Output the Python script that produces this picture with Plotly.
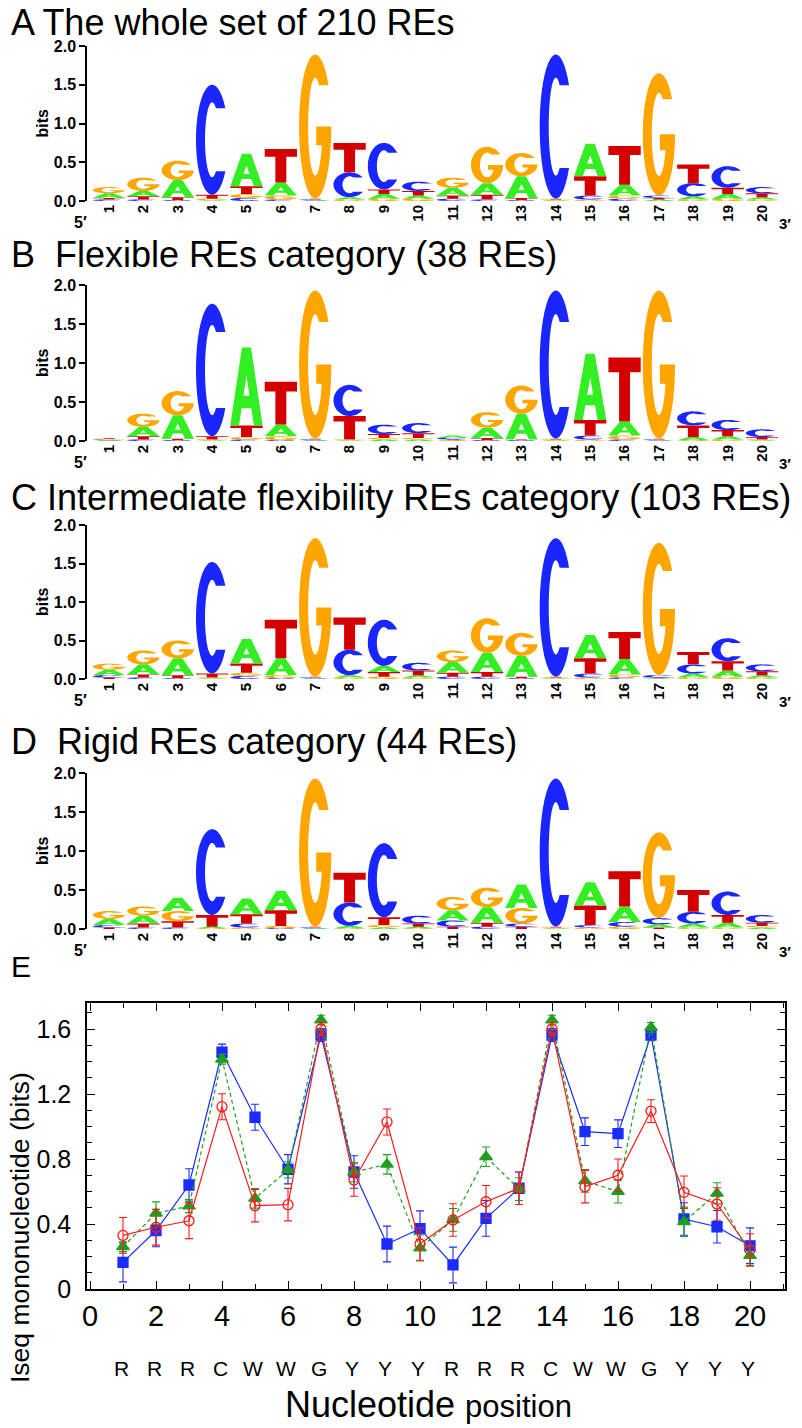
import numpy as np
import plotly.graph_objects as go

# The page body has an 8px margin, so the figure is 8px smaller and all
# reference pixel positions are shifted by that offset.
OFF = 8
W, H = 802 - OFF, 1428 - OFF

# ---------------- data ----------------
positions = list(range(1, 21))
pos_labels = [str(p) for p in positions]
iupac = ["R", "R", "R", "C", "W", "W", "G", "Y", "Y", "Y",
         "R", "R", "R", "C", "W", "W", "G", "Y", "Y", "Y"]

# Panel A: whole set (210 REs) - letter heights in bits
whole_A = [0.06, 0.07, 0.22, 0.01, 0.42, 0.17, 0.01, 0.03, 0.06, 0.04, 0.10, 0.15, 0.28, 0.01, 0.42, 0.14, 0.02, 0.04, 0.06, 0.03]
whole_C = [0.02, 0.02, 0.01, 1.42, 0.04, 0.02, 0.01, 0.32, 0.60, 0.12, 0.03, 0.02, 0.01, 1.86, 0.05, 0.03, 0.03, 0.17, 0.28, 0.08]
whole_G = [0.08, 0.17, 0.25, 0.02, 0.05, 0.05, 1.86, 0.02, 0.03, 0.03, 0.13, 0.47, 0.30, 0.01, 0.02, 0.04, 1.58, 0.02, 0.03, 0.02]
whole_T = [0.02, 0.04, 0.04, 0.05, 0.10, 0.43, 0.01, 0.38, 0.06, 0.06, 0.04, 0.06, 0.03, 0.01, 0.25, 0.50, 0.02, 0.24, 0.08, 0.05]

# Panel B: flexible (38 REs)
flex_A = [0.01, 0.12, 0.30, 0.01, 1.00, 0.15, 0.01, 0.01, 0.02, 0.02, 0.03, 0.13, 0.33, 0.01, 0.85, 0.18, 0.01, 0.04, 0.04, 0.01]
flex_C = [0.01, 0.02, 0.01, 1.70, 0.02, 0.01, 0.01, 0.40, 0.12, 0.13, 0.02, 0.01, 0.01, 1.90, 0.05, 0.02, 0.01, 0.18, 0.13, 0.10]
flex_G = [0.01, 0.17, 0.31, 0.01, 0.03, 0.05, 1.90, 0.01, 0.02, 0.02, 0.01, 0.20, 0.36, 0.01, 0.02, 0.05, 1.90, 0.01, 0.02, 0.01]
flex_T = [0.01, 0.04, 0.02, 0.04, 0.15, 0.55, 0.01, 0.30, 0.05, 0.06, 0.01, 0.03, 0.01, 0.01, 0.20, 0.82, 0.01, 0.15, 0.08, 0.03]

# Panel C: intermediate flexibility (103 REs)
inter_A = [0.07, 0.13, 0.22, 0.01, 0.32, 0.22, 0.01, 0.03, 0.08, 0.03, 0.14, 0.25, 0.27, 0.01, 0.30, 0.20, 0.01, 0.05, 0.08, 0.03]
inter_C = [0.03, 0.02, 0.01, 1.45, 0.04, 0.01, 0.01, 0.33, 0.60, 0.10, 0.03, 0.03, 0.01, 1.80, 0.05, 0.02, 0.03, 0.12, 0.30, 0.09]
inter_G = [0.08, 0.18, 0.23, 0.01, 0.04, 0.04, 1.80, 0.02, 0.03, 0.02, 0.15, 0.45, 0.30, 0.01, 0.02, 0.04, 1.72, 0.02, 0.03, 0.02]
inter_T = [0.02, 0.04, 0.04, 0.05, 0.12, 0.50, 0.01, 0.42, 0.06, 0.06, 0.05, 0.06, 0.02, 0.01, 0.20, 0.35, 0.01, 0.16, 0.12, 0.05]

# Panel D: rigid (44 REs)
rigid_A = [0.08, 0.10, 0.17, 0.02, 0.20, 0.25, 0.01, 0.03, 0.02, 0.02, 0.13, 0.20, 0.30, 0.01, 0.30, 0.20, 0.04, 0.05, 0.06, 0.02]
rigid_C = [0.03, 0.02, 0.02, 1.10, 0.05, 0.01, 0.01, 0.30, 0.95, 0.10, 0.08, 0.03, 0.04, 1.90, 0.03, 0.06, 0.08, 0.15, 0.30, 0.10]
rigid_G = [0.10, 0.12, 0.13, 0.01, 0.02, 0.03, 1.90, 0.01, 0.03, 0.01, 0.17, 0.25, 0.20, 0.01, 0.02, 0.03, 1.10, 0.02, 0.02, 0.02]
rigid_T = [0.02, 0.05, 0.08, 0.15, 0.12, 0.20, 0.01, 0.38, 0.10, 0.04, 0.03, 0.05, 0.03, 0.01, 0.25, 0.45, 0.02, 0.28, 0.10, 0.04]

# Panel E: Iseq mononucleotide (bits), mean and error per category
flex_iseq = [0.164, 0.36, 0.64, 1.457, 1.057, 0.737, 1.563, 0.72, 0.277, 0.371,
             0.148, 0.435, 0.62, 1.563, 0.968, 0.956, 1.563, 0.431, 0.383, 0.266]
flex_err = [0.12, 0.10, 0.10, 0.05, 0.08, 0.09, 0.04, 0.10, 0.11, 0.11,
            0.11, 0.11, 0.10, 0.04, 0.085, 0.085, 0.03, 0.10, 0.10, 0.11]
inter_iseq = [0.26, 0.466, 0.51, 1.414, 0.558, 0.733, 1.655, 0.72, 0.767, 0.252,
              0.425, 0.814, 0.615, 1.655, 0.665, 0.599, 1.61, 0.414, 0.589, 0.205]
inter_err = [0.03, 0.07, 0.04, 0.03, 0.06, 0.05, 0.03, 0.06, 0.06, 0.08,
             0.07, 0.06, 0.07, 0.03, 0.07, 0.07, 0.03, 0.09, 0.065, 0.06]
rigid_iseq = [0.33, 0.38, 0.42, 1.122, 0.513, 0.519, 1.60, 0.671, 1.028, 0.277,
              0.425, 0.537, 0.62, 1.60, 0.63, 0.70, 1.095, 0.595, 0.523, 0.24]
rigid_err = [0.11, 0.11, 0.11, 0.08, 0.10, 0.10, 0.04, 0.10, 0.08, 0.10,
             0.10, 0.10, 0.10, 0.04, 0.10, 0.10, 0.07, 0.10, 0.10, 0.10]

titles = ["A The whole set of 210 REs",
          "B\u00a0 Flexible REs category (38 REs)",
          "C Intermediate flexibility REs category (103 REs)",
          "D\u00a0 Rigid REs category (44 REs)"]

# ---------------- styling ----------------
LETTER_COLORS = {"A": "#33ee22", "C": "#1a26ff", "G": "#ffa500", "T": "#d40000"}
FONT = "Liberation Sans, Arial, Helvetica, sans-serif"
LETTER_W = 0.94

def px_x(px):
    return (px - OFF) / W

def px_y(py):
    return 1 - (py - OFF) / H

logo_rows = [(46, 201), (285, 441), (525, 679), (773, 929)]
title_y = [23, 254, 497, 741]
logo_x_px = (87, 790)
pos1_px, step_px = 109.0, 34.37
logo_xrange = [1 - (pos1_px - logo_x_px[0]) / step_px, 1 + (logo_x_px[1] - pos1_px) / step_px]

# ---------------- glyph templates (unit box) ----------------
def arc(cx, cy, rx, ry, a0, a1, n=36):
    t = np.radians(np.linspace(a0, a1, n))
    return list(zip(cx + rx * np.cos(t), cy + ry * np.sin(t)))

IN_RX, IN_RY = 0.22, 0.34
A_OUT = 35.0
y_term = 0.5 + 0.5 * np.sin(np.radians(A_OUT))
A_IN = np.degrees(np.arcsin((y_term - 0.5) / IN_RY))


def glyph(letter):
    if letter == "A":
        outer = [(0, 0), (0.36, 1), (0.64, 1), (1, 0), (0.73, 0), (0.65, 0.22),
                 (0.35, 0.22), (0.27, 0)]
        hole = [(0.407, 0.38), (0.593, 0.38), (0.5, 0.64)]
        return [outer, hole]
    if letter == "T":
        return [[(0, 1), (1, 1), (1, 0.77), (0.67, 0.77), (0.67, 0), (0.33, 0),
                 (0.33, 0.77), (0, 0.77)]]
    if letter == "C":
        outer = arc(0.5, 0.5, 0.5, 0.5, A_OUT, 360 - A_OUT)
        inner = arc(0.5, 0.5, IN_RX, IN_RY, 360 - A_IN, A_IN)
        return [outer + inner]
    if letter == "G":
        outer = arc(0.5, 0.5, 0.5, 0.5, A_OUT, 360)
        ybar = 0.37
        a_bar = 360 + np.degrees(np.arcsin((ybar - 0.5) / IN_RY))
        bar = [(0.53, 0.5), (0.53, ybar)]
        inner = arc(0.5, 0.5, IN_RX, IN_RY, a_bar, A_IN)
        return [outer + bar + inner]


GLYPHS = {L: glyph(L) for L in "ACGT"}


def glyph_path(letter, xc, y0, h):
    x0 = xc - LETTER_W / 2
    parts = []
    for poly in GLYPHS[letter]:
        pts = ["%.4f,%.5f" % (x0 + u * LETTER_W, y0 + v * h) for u, v in poly]
        parts.append("M" + " L".join(pts) + " Z")
    return " ".join(parts)


# ---------------- figure ----------------
fig = go.Figure()
shapes = []
annotations = []
layout = {}

logo_sets = [
    (whole_A, whole_C, whole_G, whole_T),
    (flex_A, flex_C, flex_G, flex_T),
    (inter_A, inter_C, inter_G, inter_T),
    (rigid_A, rigid_C, rigid_G, rigid_T),
]

for k, (la, lc, lg, lt) in enumerate(logo_sets, start=1):
    xname = "x" if k == 1 else f"x{k}"
    yname = "y" if k == 1 else f"y{k}"
    top_px, bot_px = logo_rows[k - 1]
    fig.add_trace(go.Scatter(x=positions, y=[0] * 20, mode="markers",
                             marker=dict(opacity=0), hoverinfo="skip",
                             showlegend=False, xaxis=xname, yaxis=yname))
    for i, p in enumerate(positions):
        stack = sorted([("A", la[i]), ("C", lc[i]), ("G", lg[i]), ("T", lt[i])],
                       key=lambda t: t[1])
        base = 0.0
        for letter, hgt in stack:
            shapes.append(dict(type="path", xref=xname, yref=yname,
                               path=glyph_path(letter, p, base, hgt),
                               fillcolor=LETTER_COLORS[letter],
                               line=dict(width=0), fillrule="evenodd",
                               layer="above"))
            base += hgt
    layout["xaxis" if k == 1 else f"xaxis{k}"] = dict(
        domain=[px_x(logo_x_px[0]), px_x(logo_x_px[1])],
        range=logo_xrange, anchor=yname, automargin=False,
        tickmode="array", tickvals=positions, ticktext=pos_labels,
        tickangle=-90, ticks="", showline=False, showgrid=False, zeroline=False,
        tickfont=dict(family=FONT, size=15, color="black", weight="bold"),
        fixedrange=True)
    layout["yaxis" if k == 1 else f"yaxis{k}"] = dict(
        domain=[px_y(bot_px), px_y(top_px)], range=[0, 2.0], anchor=xname,
        automargin=False,
        tickmode="array", tickvals=[0, 0.5, 1.0, 1.5, 2.0],
        ticktext=["0.0", "0.5", "1.0", "1.5", "2.0"],
        ticks="outside", ticklen=6, tickwidth=1.5, tickcolor="black",
        showline=True, linewidth=1.5, linecolor="black",
        showgrid=False, zeroline=False,
        tickfont=dict(family=FONT, size=16, color="black", weight="bold"),
        fixedrange=True)
    annotations.append(dict(text="bits", x=px_x(42), y=px_y((top_px + bot_px) / 2),
                            xref="paper", yref="paper", textangle=-90,
                            xanchor="center", yanchor="middle", showarrow=False,
                            font=dict(family=FONT, size=16, color="black", weight="bold")))
    annotations.append(dict(text=titles[k - 1], x=px_x(9), y=px_y(title_y[k - 1]),
                            xref="paper", yref="paper", xanchor="left", yanchor="middle",
                            showarrow=False,
                            font=dict(family=FONT, size=36, color="black")))
    annotations.append(dict(text="5\u2032", x=px_x(80), y=px_y(bot_px + 21),
                            xref="paper", yref="paper", xanchor="center", yanchor="middle",
                            showarrow=False,
                            font=dict(family=FONT, size=16, color="black", weight="bold")))
    annotations.append(dict(text="3\u2032", x=px_x(793), y=px_y(bot_px + 22),
                            xref="paper", yref="paper", xanchor="right", yanchor="middle",
                            showarrow=False,
                            font=dict(family=FONT, size=15, color="black", weight="bold")))

# ---------------- panel E ----------------
series = [
    (flex_iseq, flex_err, "#1a2cff", "square", "solid", 10),
    (inter_iseq, inter_err, "#1f9e1f", "triangle-up", "dash", 11),
    (rigid_iseq, rigid_err, "#ff1a1a", "circle-open", "solid", 10),
]
for vals, errs, col, sym, dash, msize in series:
    fig.add_trace(go.Scatter(
        x=positions, y=vals, mode="lines+markers",
        line=dict(color=col, width=1.2, dash="4px,3px" if dash == "dash" else "solid"),
        marker=dict(symbol=sym, size=msize, color=col,
                    line=dict(color=col, width=1.3)),
        error_y=dict(type="data", array=errs, visible=True, color=col,
                     thickness=1.1, width=4),
        showlegend=False, hoverinfo="skip", xaxis="x5", yaxis="y5"))

E_left, E_right, E_top, E_bot = 87, 785, 1003, 1289
x0_px, unit_px = 90.0, 33.0
layout["xaxis5"] = dict(
    domain=[px_x(E_left), px_x(E_right)],
    range=[(E_left - x0_px) / unit_px, (E_right - x0_px) / unit_px],
    anchor="y5", automargin=False, tick0=0, dtick=2, ticks="inside", ticklen=8,
    tickwidth=1, tickcolor="black", showline=True, mirror="allticks", linewidth=1.5,
    linecolor="black", showgrid=False, zeroline=False, ticklabelstandoff=0,
    minor=dict(dtick=1, tick0=0, ticks="inside", ticklen=5, tickcolor="black"),
    tickfont=dict(family=FONT, size=29, color="black"), fixedrange=True)
layout["yaxis5"] = dict(
    domain=[px_y(E_bot), px_y(E_top)], range=[0, (E_bot - E_top) / 162.5],
    anchor="x5", automargin=False, tick0=0, dtick=0.4, ticks="inside", ticklen=8,
    tickwidth=1, tickcolor="black", showline=True, mirror="allticks", linewidth=1.5,
    linecolor="black", showgrid=False, zeroline=False, ticklabelstandoff=9,
    minor=dict(dtick=0.1, tick0=0, ticks="inside", ticklen=5, tickcolor="black"),
    tickfont=dict(family=FONT, size=25, color="black"),
    fixedrange=True)

annotations.append(dict(text="Iseq mononucleotide (bits)", x=px_x(20), y=px_y(1228),
                        xref="paper", yref="paper", textangle=-90,
                        xanchor="center", yanchor="middle", showarrow=False,
                        font=dict(family=FONT, size=26.5, color="black")))
annotations.append(dict(text="E", x=px_x(9), y=px_y(966), xref="paper", yref="paper",
                        xanchor="left", yanchor="middle", showarrow=False,
                        font=dict(family=FONT, size=30, color="black")))
for p, lab in zip(positions, iupac):
    annotations.append(dict(text=lab, x=p - 0.06, y=px_y(1368), xref="x5", yref="paper",
                            xanchor="center", yanchor="middle", showarrow=False,
                            font=dict(family=FONT, size=21, color="black")))
annotations.append(dict(text="Nucleotide <span style='font-size:31px'>position</span>",
                        x=px_x(429), y=px_y(1404), xref="paper", yref="paper",
                        xanchor="center", yanchor="middle", showarrow=False,
                        font=dict(family=FONT, size=36, color="black")))

fig.update_layout(
    width=W, height=H, margin=dict(l=0, r=0, t=0, b=0, autoexpand=False),
    paper_bgcolor="white", plot_bgcolor="white",
    shapes=shapes, annotations=annotations, showlegend=False, **layout)

fig.write_html("out.html")
